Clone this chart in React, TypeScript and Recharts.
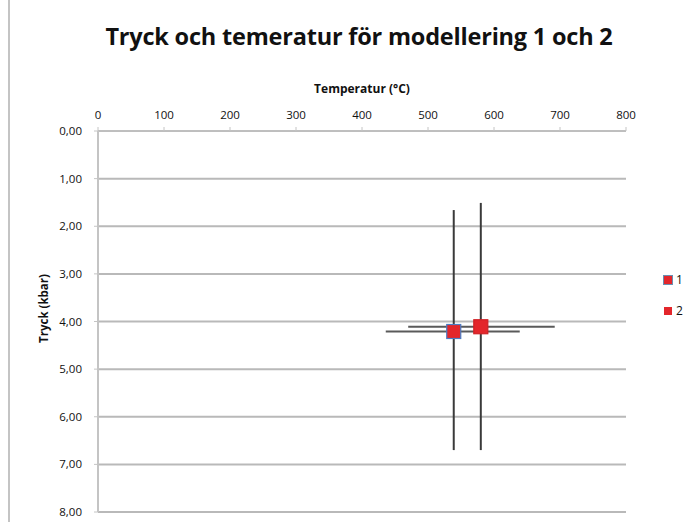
import { CartesianGrid, ErrorBar, Label, Scatter, ScatterChart, XAxis, YAxis } from 'recharts';

const seriesNames = ['1', '2'];
const temperatures = [539, 580];
const pressures = [4.21, 4.11];
const tempErrors: Array<[number, number]> = [
  [103, 100],
  [110, 112],
];
const pressureErrors: Array<[number, number]> = [
  [2.55, 2.49],
  [2.6, 2.59],
];
const xTicks = [0, 100, 200, 300, 400, 500, 600, 700, 800];
const yTicks = [0, 1, 2, 3, 4, 5, 6, 7, 8];

const markerFill = ['#e3262b', '#e3262b'];
const markerStroke = ['#4a7cc4', '#d02024'];

const series = seriesNames.map((name, i) => ({
  name,
  data: [{ x: temperatures[i], y: pressures[i], ex: tempErrors[i], ey: pressureErrors[i] }],
}));

const font = '"Open Sans", sans-serif';
const fmtY = (v: number) => v.toFixed(2).replace('.', ',');

// square marker centred on the point the scale gives us
const squareShape = (fill: string, stroke: string) => (p: any) => (
  <rect x={p.cx - 7} y={p.cy - 7} width={14} height={14} fill={fill} stroke={stroke} strokeWidth={1.2} />
);

export default function App() {
  return (
    <div style={{ position: 'absolute', left: 0, top: 0, width: 688, height: 522, background: '#fff', fontFamily: font }}>
      <div style={{ position: 'absolute', left: 8, top: 0, width: 2, height: 522, background: '#c4c4c4' }} />
      <div
        style={{
          position: 'absolute',
          left: 0,
          top: 20,
          width: 718,
          textAlign: 'center',
          fontSize: 23.5,
          fontWeight: 700,
          color: '#111',
          letterSpacing: -0.2,
        }}
      >
        Tryck och temeratur för modellering 1 och 2
      </div>
      <ScatterChart width={688} height={522} margin={{ top: 75, right: 62, bottom: 10, left: 0 }} style={{ position: 'absolute', left: 0, top: 0 }}>
        <CartesianGrid vertical={false} stroke="#b9b9b9" strokeWidth={2} />
        <XAxis
          type="number"
          dataKey="x"
          orientation="top"
          domain={[0, 800]}
          ticks={xTicks}
          height={56}
          axisLine={{ stroke: '#c4c4c4' }}
          tickLine={{ stroke: '#c4c4c4' }}
          tickSize={4}
          tickMargin={8}
          tick={{ fontSize: 11.5, fill: '#111', fontFamily: font }}
        >
          <Label value="Temperatur (°C)" position="insideTop" offset={9} style={{ fontSize: 12, fontWeight: 700, fill: '#111', fontFamily: font }} />
        </XAxis>
        <YAxis
          type="number"
          dataKey="y"
          reversed
          domain={[0, 8]}
          ticks={yTicks}
          width={98}
          tickFormatter={fmtY}
          axisLine={{ stroke: '#c4c4c4', strokeWidth: 2 }}
          tickLine={{ stroke: '#c4c4c4' }}
          tickSize={4}
          tickMargin={12}
          tick={{ fontSize: 11.5, fill: '#111', fontFamily: font }}
          label={{
            content: (p: any) => {
              const vb = p.viewBox;
              const cx = vb.x + 43;
              const cy = vb.y + vb.height / 2 - 13;
              return (
                <text x={cx} y={cy} transform={`rotate(-90 ${cx} ${cy})`} textAnchor="middle" dominantBaseline="central" fontSize={11.5} fontWeight={700} fill="#111" fontFamily={font}>
                  Tryck (kbar)
                </text>
              );
            },
          }}
        />
        {series.map((s, i) => (
          <Scatter key={s.name} name={s.name} data={s.data} shape={squareShape(markerFill[i], markerStroke[i])} fill={markerFill[i]} isAnimationActive={false}>
            <ErrorBar dataKey="ey" direction="y" width={0} stroke="#3a3a3a" strokeWidth={2} isAnimationActive={false} />
            <ErrorBar dataKey="ex" direction="x" width={0} stroke="#5a5a5a" strokeWidth={2} isAnimationActive={false} />
          </Scatter>
        ))}
      </ScatterChart>
      <div style={{ position: 'absolute', left: 664, top: 264 }}>
        {series.map((s, i) => (
          <div key={s.name} style={{ display: 'flex', alignItems: 'center', height: 31, fontSize: 12, color: '#111' }}>
            <span style={{ display: 'inline-block', width: 8, height: 8, background: markerFill[i], boxShadow: i === 0 ? '0 0 0 1px #6a8fb0' : 'none', marginRight: 4 }} />
            {s.name}
          </div>
        ))}
      </div>
    </div>
  );
}
